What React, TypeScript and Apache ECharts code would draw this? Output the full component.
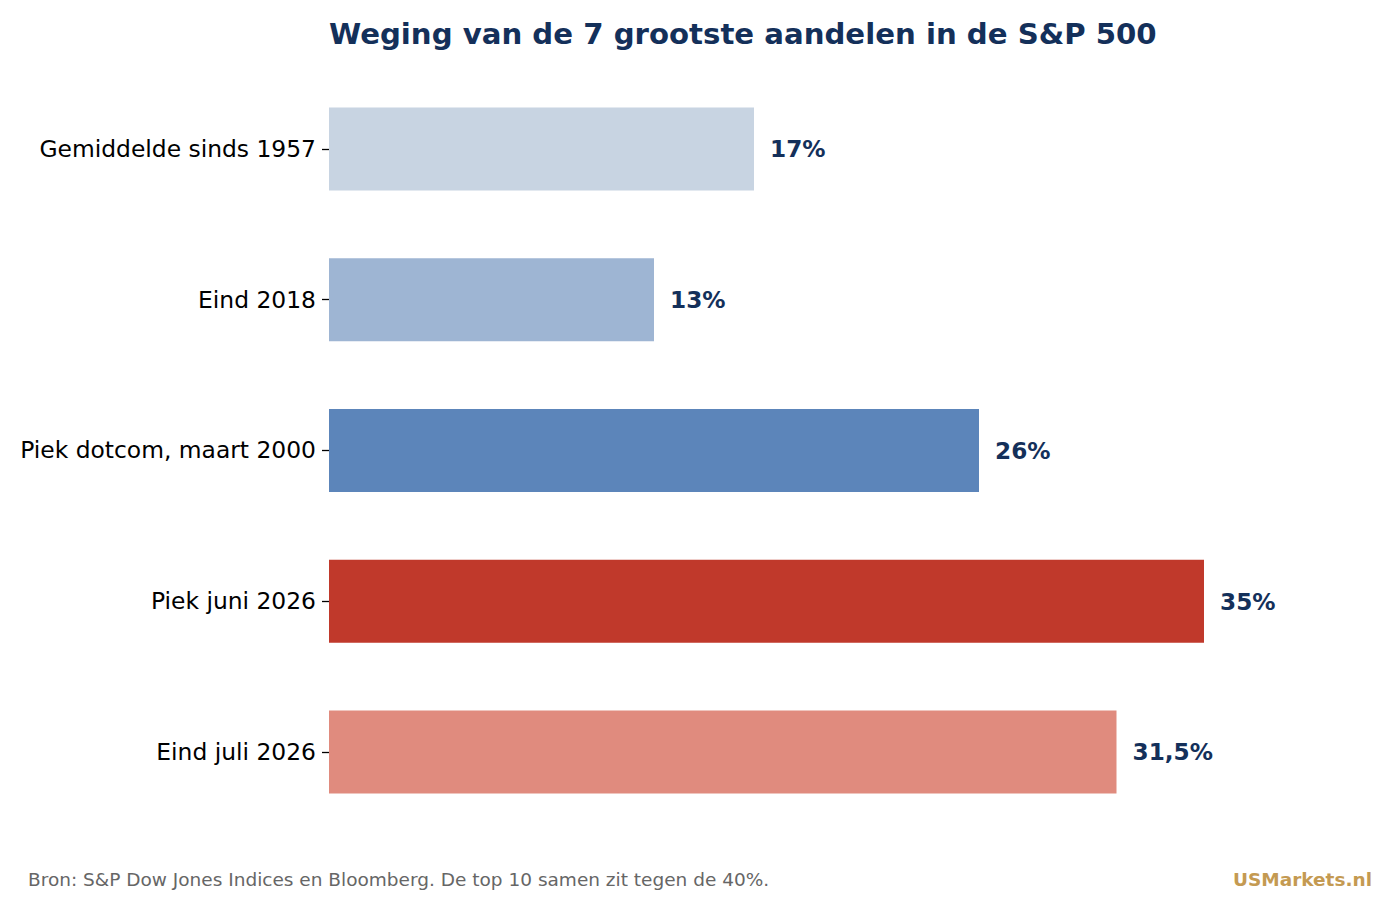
import React, { useEffect, useRef } from "react";
import * as echarts from "echarts";

const categories = [
  "Gemiddelde sinds 1957",
  "Eind 2018",
  "Piek dotcom, maart 2000",
  "Piek juni 2026",
  "Eind juli 2026",
];
const values = [17, 13, 26, 35, 31.5];
const valueLabels = ["17%", "13%", "26%", "35%", "31,5%"];
const barColors = ["#c8d4e2", "#9eb5d3", "#5c85ba", "#c0392b", "#e08b7e"];

const titleText = "Weging van de 7 grootste aandelen in de S&P 500";
const sourceText = "Bron: S&P Dow Jones Indices en Bloomberg. De top 10 samen zit tegen de 40%.";
const brandText = "USMarkets.nl";

const FONT = "DejaVu Sans";
const NAVY = "#14305a";

export default function App() {
  const ref = useRef<HTMLDivElement>(null);
  useEffect(() => {
    if (!ref.current) return;
    const chart = echarts.init(ref.current, null, { renderer: "svg" });
    chart.setOption({
      animation: false,
      backgroundColor: "#ffffff",
      textStyle: { fontFamily: FONT },
      title: {
        text: titleText,
        left: 329,
        top: 19,
        padding: 0,
        textStyle: { fontFamily: FONT, fontSize: 29.2, fontWeight: "bold", color: NAVY },
      },
      grid: { left: 329, top: 73.6, width: 1000, height: 753.75, containLabel: false },
      xAxis: {
        type: "value",
        min: 0,
        max: 40,
        show: false,
      },
      yAxis: {
        type: "category",
        data: categories,
        inverse: true,
        axisLine: { show: false },
        axisTick: { show: true, length: 7, alignWithLabel: true, lineStyle: { color: "#000", width: 1.3 } },
        axisLabel: { fontFamily: FONT, fontSize: 23.4, color: "#000", margin: 13, padding: [4, 0, 0, 0] },
        splitLine: { show: false },
      },
      series: [
        {
          type: "bar",
          barWidth: "55%",
          data: values.map((v, i) => ({
            value: v,
            itemStyle: { color: barColors[i] },
            label: {
              show: true,
              position: "right",
              distance: 16,
              formatter: valueLabels[i],
              fontFamily: FONT,
              fontSize: 23.2,
              fontWeight: "bold",
              color: NAVY,
            },
          })),
        },
      ],
      graphic: [
        {
          type: "text",
          left: 28,
          top: 870,
          style: { text: sourceText, fontFamily: FONT, fontSize: 18.5, fill: "#666666" },
        },
        {
          type: "text",
          right: 28,
          top: 870,
          style: { text: brandText, fontFamily: FONT, fontSize: 18.5, fontWeight: "bold", fill: "#c49a52" },
        },
      ],
    });
    return () => chart.dispose();
  }, []);
  return <div ref={ref} style={{ width: 1400, height: 903, position: "absolute", left: 0, top: 0 }} />;
}
